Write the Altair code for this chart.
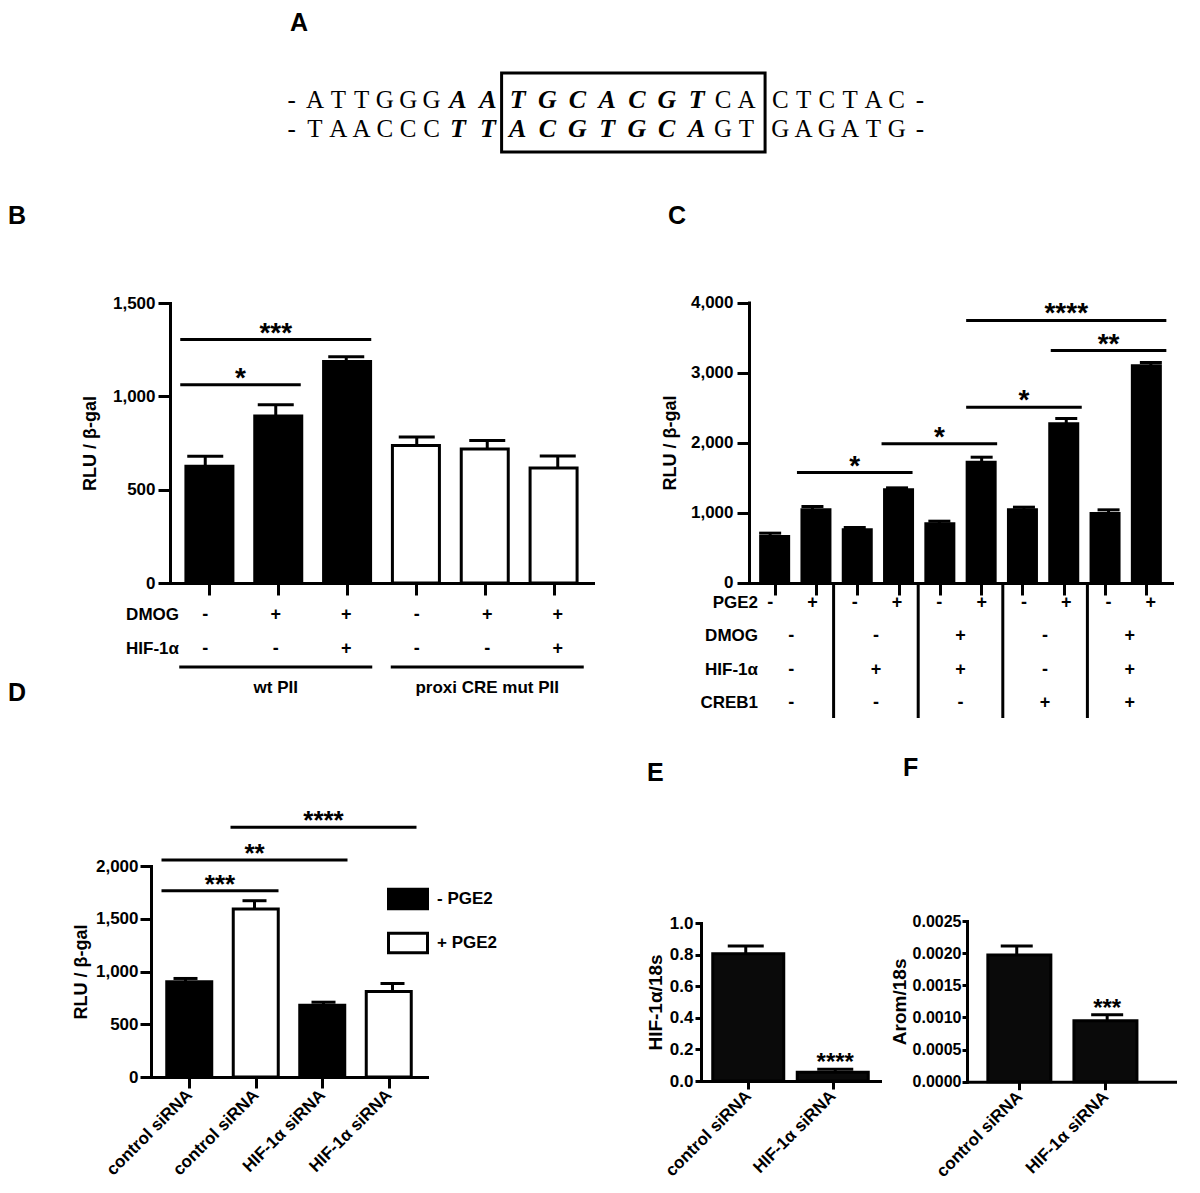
import altair as alt
import pandas as pd

# ---------------- data ----------------
# Panel A: promoter sequence
seq_top = "-ATTGGGAATGCACGTCACTCTAC-"
seq_bottom = "-TAACCCTTACGTGCAGTGAGATG-"
bold_idx = list(range(7, 16))
box_first, box_last = 9, 17

# Panel B
b_values = [625, 895, 1187, 736, 718, 616]
b_sem = [54, 60, 25, 46, 46, 64]
b_fill = ["black", "black", "black", "white", "white", "white"]
b_rows = ["DMOG", "HIF-1α"]
b_dmog = ["-", "+", "+", "-", "+", "+"]
b_hif = ["-", "-", "+", "-", "-", "+"]
b_groups = ["wt PII", "proxi CRE mut PII"]
b_group_start = [0, 3]
b_group_end = [2, 5]
b_sig_start = [0, 0]
b_sig_end = [1, 2]
b_sig_height = [1062, 1304]
b_sig_label = ["*", "***"]

# Panel C
c_values = [657, 1038, 752, 1324, 838, 1719, 1038, 2267, 986, 3095]
c_sem = [48, 48, 34, 28, 38, 71, 38, 76, 52, 48]
c_rows = ["PGE2", "DMOG", "HIF-1α", "CREB1"]
c_pge2 = ["-", "+", "-", "+", "-", "+", "-", "+", "-", "+"]
c_dmog = ["-", "-", "+", "-", "+"]
c_hif = ["-", "+", "+", "-", "+"]
c_creb1 = ["-", "-", "-", "+", "+"]
c_sig_start = [1, 3, 5, 7, 5]
c_sig_end = [3, 5, 7, 9, 9]
c_sig_height = [1571, 1981, 2505, 3314, 3743]
c_sig_label = ["*", "*", "*", "**", "****"]

# Panel D
d_labels = ["control siRNA", "control siRNA", "HIF-1α siRNA", "HIF-1α siRNA"]
d_pge2 = ["- PGE2", "+ PGE2", "- PGE2", "+ PGE2"]
d_values = [902, 1592, 680, 810]
d_sem = [32, 79, 29, 76]
d_sig_start = [0, 0, 1]
d_sig_end = [1, 2, 3]
d_sig_height = [1766, 2057, 2368]
d_sig_label = ["***", "**", "****"]

# Panel E
e_labels = ["control siRNA", "HIF-1α siRNA"]
e_values = [0.805, 0.055]
e_sem = [0.05, 0.02]
e_stars = ["", "****"]

# Panel F
f_labels = ["control siRNA", "HIF-1α siRNA"]
f_values = [0.00197, 0.00095]
f_sem = [0.00014, 0.00009]
f_stars = ["", "***"]

# ---------------- layout helpers ----------------
W, H = 1184, 1177


def P(v):
    return v - 8


SANS = "Liberation Sans, Arial, Helvetica, sans-serif"
SERIF = "Liberation Serif, Times New Roman, serif"


def ax(**kw):
    base = dict(grid=False, domainColor="black", domainWidth=3, tickColor="black", tickWidth=3,
                labelColor="black", labelFontWeight="bold", titleColor="black", titleFontWeight="bold",
                domainCap="square", labelFlush=False, labelOverlap=False, labelBound=False)
    base.update(kw)
    return alt.Axis(**base)


def X(field, xs, axis=None):
    return alt.X(field, type="quantitative", scale=xs, axis=axis)


def Y(field, ys, axis=None):
    return alt.Y(field, type="quantitative", scale=ys, axis=axis)


def lin(dom, r0, r1):
    return alt.Scale(domain=dom, range=[r0, r1], nice=False, zero=False)


def bar_layers(values, sem, fill_enc, extra, xs, ys, bw, capw, xaxis, yaxis):
    df = pd.DataFrame({"i": list(range(len(values))), "v": values,
                       "hi": [v + e for v, e in zip(values, sem)]})
    for k, col in extra.items():
        df[k] = col
    bars = alt.Chart(df).mark_bar(orient="vertical", width=bw - 3, stroke="black", strokeWidth=3).encode(
        x=X("i", xs, xaxis), y=Y("v", ys, yaxis), fill=fill_enc)
    err = alt.Chart(df).mark_rule(color="black", strokeWidth=3).encode(
        x=X("i", xs), y=Y("v", ys), y2="hi")
    cap = alt.Chart(df).mark_rule(color="black", strokeWidth=3, xOffset=-capw / 2, x2Offset=capw / 2).encode(
        x=X("i", xs), x2="i", y=Y("hi", ys))
    return [bars, err, cap]


def sig_layers(start, end, height, label, xs, ys, half, size):
    df = pd.DataFrame({"s": start, "e": end, "y": height, "lab": label})
    rule = alt.Chart(df).mark_rule(color="black", strokeWidth=3, xOffset=-half, x2Offset=half).encode(
        x=X("s", xs), x2="e", y=Y("y", ys))
    text = alt.Chart(df).transform_calculate(m="(datum.s + datum.e) / 2").mark_text(
        font=SANS, fontSize=size, fontWeight="bold", baseline="alphabetic", dy=2, color="black").encode(
        x=X("m", xs), y=Y("y", ys), text="lab:N")
    return [rule, text]


layers = []

# ---------------- Panel A ----------------
widths = [1.28 if k in bold_idx else 1.0 for k in range(len(seq_top))]
pos, c = [], 0.0
for k, w in enumerate(widths):
    pos.append(c + w / 2)
    c += w
    if k == box_last:
        c += 0.45
seq_rows = []
for r, s in enumerate([seq_top, seq_bottom]):
    for k, ch in enumerate(s):
        seq_rows.append({"ch": ch, "pos": pos[k], "row": r, "b": 1 if k in bold_idx else 0})
seq_df = pd.DataFrame(seq_rows)
a_xs = lin([pos[0], pos[-1]], P(291.7), P(920))
a_ys = lin([0, 1], P(100), P(129))
layers.append(alt.Chart(seq_df).transform_filter("datum.b == 0").mark_text(
    font=SERIF, fontSize=25, baseline="middle", color="black").encode(
    x=X("pos", a_xs), y=Y("row", a_ys), text="ch:N"))
layers.append(alt.Chart(seq_df).transform_filter("datum.b == 1").mark_text(
    font=SERIF, fontSize=26, fontWeight="bold", fontStyle="italic", baseline="middle", color="black").encode(
    x=X("pos", a_xs), y=Y("row", a_ys), text="ch:N"))
box_df = pd.DataFrame({"l": [pos[box_first] - widths[box_first] / 2 - 0.05],
                       "r": [pos[box_last] + widths[box_last] / 2 + 0.3],
                       "t": [-0.93], "b": [1.79]})
layers.append(alt.Chart(box_df).mark_rect(fillOpacity=0, stroke="black", strokeWidth=3).encode(
    x=X("l", a_xs), x2="r", y=Y("t", a_ys), y2="b"))

# ---------------- Panel B ----------------
b_xs = lin([-0.5, 5.5], P(170), P(593))
b_ys = lin([0, 1500], P(583), P(303))
b_yaxis = ax(orient="left", offset=-P(170), values=[0, 500, 1000, 1500], format=",.0f",
             title="RLU / β-gal", labelFont=SANS, labelFontSize=17, tickSize=12, labelPadding=3,
             titleFont=SANS, titleFontSize=18, titlePadding=13)
b_xaxis = ax(orient="bottom", offset=P(583) - H, values=list(range(6)), labels=False, tickSize=12, title=None)
layers += bar_layers(b_values, b_sem, alt.Fill("fill:N", scale=None), {"fill": b_fill},
                     b_xs, b_ys, 50, 36, b_xaxis, b_yaxis)
layers += sig_layers(b_sig_start, b_sig_end, b_sig_height, b_sig_label, b_xs, b_ys, 25, 28)
b_table = pd.DataFrame({"i": list(range(6)) * 2, "row": [b_rows[0]] * 6 + [b_rows[1]] * 6,
                        "sign": b_dmog + b_hif})
b_rs = alt.Scale(domain=b_rows, range=[P(615), P(649)], padding=0)
layers.append(alt.Chart(b_table).mark_text(font=SANS, fontSize=18, fontWeight="bold", baseline="middle",
                                           color="black").encode(
    x=X("i", b_xs), y=alt.Y("row:N", scale=b_rs, axis=None), text="sign:N"))
layers.append(alt.Chart(pd.DataFrame({"row": b_rows})).mark_text(
    font=SANS, fontSize=17, fontWeight="bold", align="right", baseline="middle", color="black").encode(
    x=alt.value(P(179)), y=alt.Y("row:N", scale=b_rs, axis=None), text="row:N"))
b_gdf = pd.DataFrame({"s": b_group_start, "e": b_group_end, "g": b_groups})
layers.append(alt.Chart(b_gdf).mark_rule(color="black", strokeWidth=3, xOffset=-26, x2Offset=26).encode(
    x=X("s", b_xs), x2="e", y=alt.value(P(667))))
layers.append(alt.Chart(b_gdf).transform_calculate(m="(datum.s + datum.e) / 2").mark_text(
    font=SANS, fontSize=17, fontWeight="bold", baseline="middle", color="black").encode(
    x=X("m", b_xs), y=alt.value(P(688)), text="g:N"))

# ---------------- Panel C ----------------
c_xs = lin([-0.5, 9.5], P(749), P(1172))
c_ys = lin([0, 4000], P(582.5), P(302.5))
c_yaxis = ax(orient="left", offset=-P(749), values=[0, 1000, 2000, 3000, 4000], format=",.0f",
             title="RLU / β-gal", labelFont=SANS, labelFontSize=17, tickSize=12, labelPadding=4,
             titleFont=SANS, titleFontSize=18, titlePadding=11)
c_xaxis = ax(orient="bottom", offset=P(583) - H, values=list(range(10)), labels=False, tickSize=12, title=None)
layers += bar_layers(c_values, c_sem, alt.value("black"), {}, c_xs, c_ys, 31, 22, c_xaxis, c_yaxis)
layers += sig_layers(c_sig_start, c_sig_end, c_sig_height, c_sig_label, c_xs, c_ys, 15.5, 28)
c_table_rows = []
for k, s in enumerate(c_pge2):
    c_table_rows.append({"x": k, "row": "PGE2", "sign": s})
for g in range(5):
    for rname, vals in zip(c_rows[1:], [c_dmog, c_hif, c_creb1]):
        c_table_rows.append({"x": 2 * g + 0.5, "row": rname, "sign": vals[g]})
c_rs = alt.Scale(domain=c_rows, range=[P(603), P(703)], padding=0)
layers.append(alt.Chart(pd.DataFrame(c_table_rows)).mark_text(
    font=SANS, fontSize=18, fontWeight="bold", baseline="middle", color="black").encode(
    x=X("x", c_xs), y=alt.Y("row:N", scale=c_rs, axis=None), text="sign:N"))
layers.append(alt.Chart(pd.DataFrame({"row": c_rows})).mark_text(
    font=SANS, fontSize=17, fontWeight="bold", align="right", baseline="middle", color="black").encode(
    x=alt.value(P(758)), y=alt.Y("row:N", scale=c_rs, axis=None), text="row:N"))
layers.append(alt.Chart(pd.DataFrame({"sx": [1.5, 3.5, 5.5, 7.5]})).mark_rule(
    color="black", strokeWidth=3).encode(x=X("sx", c_xs), y=alt.value(P(583)), y2=alt.value(P(718))))

# ---------------- Panel D ----------------
d_xs = lin([-0.5, 3.5], P(151), P(427))
d_ys = lin([0, 2000], P(1077), P(866))
d_expr = "[" + ",".join("'%s'" % s for s in d_labels) + "][datum.value]"
d_yaxis = ax(orient="left", offset=-P(151), values=[0, 500, 1000, 1500, 2000], format=",.0f",
             title="RLU / β-gal", labelFont=SANS, labelFontSize=17, tickSize=11, labelPadding=2,
             titleFont=SANS, titleFontSize=18, titlePadding=5)
d_xaxis = ax(orient="bottom", offset=P(1077) - H, values=list(range(4)), labelExpr=d_expr, labelAngle=-45,
             labelAlign="right", labelBaseline="middle", labelFont=SANS, labelFontSize=17, labelPadding=4,
             tickSize=11, title=None)
d_fill = alt.Fill("pge:N", scale=alt.Scale(domain=["- PGE2", "+ PGE2"], range=["black", "white"]),
                  legend=alt.Legend(title=None, orient="none", legendX=P(387), legendY=P(878),
                                    direction="vertical", symbolType="M-1,-0.5H1V0.5H-1Z", symbolSize=1521,
                                    symbolStrokeColor="black", symbolStrokeWidth=3, symbolOpacity=1,
                                    labelFont=SANS, labelFontSize=17, labelFontWeight="bold",
                                    labelColor="black", labelOffset=8, rowPadding=7, padding=0))
layers += bar_layers(d_values, d_sem, d_fill, {"pge": d_pge2}, d_xs, d_ys, 48, 24, d_xaxis, d_yaxis)
layers += sig_layers(d_sig_start, d_sig_end, d_sig_height, d_sig_label, d_xs, d_ys, 24, 26)

# ---------------- Panel E ----------------
e_xs = lin([-0.5, 1.5], P(701), P(880))
e_ys = lin([0, 1.0], P(1081), P(923))
e_expr = "[" + ",".join("'%s'" % s for s in e_labels) + "][datum.value]"
e_yaxis = ax(orient="left", offset=-P(701), values=[0, 0.2, 0.4, 0.6, 0.8, 1.0], format=".1f",
             title="HIF-1α/18s", labelFont=SANS, labelFontSize=17, tickSize=6, labelPadding=2,
             titleFont=SANS, titleFontSize=19, titlePadding=4)
e_xaxis = ax(orient="bottom", offset=P(1081) - H, values=[0, 1], labelExpr=e_expr, labelAngle=-45,
             labelAlign="right", labelBaseline="middle", labelFont=SANS, labelFontSize=17, labelPadding=4,
             tickSize=8, title=None)
layers += bar_layers(e_values, e_sem, alt.value("#0a0a0a"), {}, e_xs, e_ys, 74, 36, e_xaxis, e_yaxis)
e_sdf = pd.DataFrame({"i": [0, 1], "hi": [v + e for v, e in zip(e_values, e_sem)], "s": e_stars})
layers.append(alt.Chart(e_sdf).mark_text(font=SANS, fontSize=24, fontWeight="bold", baseline="alphabetic",
                                         dy=1, color="black").encode(
    x=X("i", e_xs), y=Y("hi", e_ys), text="s:N"))

# ---------------- Panel F ----------------
f_xs = lin([-0.55, 1.75], P(967), P(1175))
f_ys = lin([0, 0.0025], P(1081.7), P(921))
f_expr = "[" + ",".join("'%s'" % s for s in f_labels) + "][datum.value]"
f_yaxis = ax(orient="left", offset=-P(967), values=[0, 0.0005, 0.001, 0.0015, 0.002, 0.0025], format=".4f",
             title="Arom/18s", labelFont=SANS, labelFontSize=16, tickSize=5, labelPadding=1,
             titleFont=SANS, titleFontSize=19, titlePadding=3)
f_xaxis = ax(orient="bottom", offset=P(1081.7) - H, values=[0, 1], labelExpr=f_expr, labelAngle=-45,
             labelAlign="right", labelBaseline="middle", labelFont=SANS, labelFontSize=17, labelPadding=4,
             tickSize=8, title=None)
layers += bar_layers(f_values, f_sem, alt.value("#0a0a0a"), {}, f_xs, f_ys, 66, 32, f_xaxis, f_yaxis)
f_sdf = pd.DataFrame({"i": [0, 1], "hi": [v + e for v, e in zip(f_values, f_sem)], "s": f_stars})
layers.append(alt.Chart(f_sdf).mark_text(font=SANS, fontSize=24, fontWeight="bold", baseline="alphabetic",
                                         dy=1, color="black").encode(
    x=X("i", f_xs), y=Y("hi", f_ys), text="s:N"))

# ---------------- panel letters ----------------
letter_pos = {"A": (290, 11), "B": (8, 204), "C": (668, 204), "D": (8, 681), "E": (647, 761), "F": (903, 756)}
for letter, (lx, ly) in letter_pos.items():
    layers.append(alt.Chart(pd.DataFrame({"t": [letter]})).mark_text(
        font=SANS, fontSize=25, fontWeight="bold", align="left", baseline="top", color="black").encode(
        x=alt.value(P(lx)), y=alt.value(P(ly)), text="t:N"))

chart = alt.layer(*layers).resolve_scale(x="independent", y="independent").properties(
    width=W, height=H, autosize=alt.AutoSizeParams(type="none"), padding=0, background="white"
).configure_view(stroke=None)

chart.save("out.html", embed_options={"renderer": "svg", "actions": False})
